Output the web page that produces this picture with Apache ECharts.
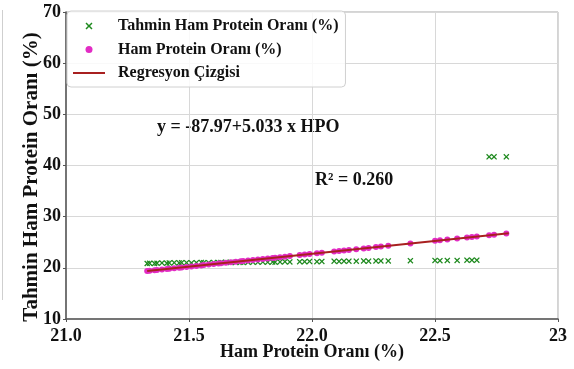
<!DOCTYPE html>
<html><head><meta charset="utf-8">
<script src="https://cdn.jsdelivr.net/npm/echarts@6/dist/echarts.min.js"></script>
<style>html,body{margin:0;padding:0;background:#fff;}#c{width:574px;height:369px;}</style>
</head><body><div id="c"></div>
<script>
// Ham Protein Oranı (%) – x values
const hpo = [21.33,21.34,21.36,21.37,21.39,21.41,21.42,21.44,21.46,21.47,21.49,21.51,21.53,21.55,21.56,21.58,21.60,21.62,21.63,21.65,21.67,21.69,21.71,21.72,21.74,21.76,21.78,21.80,21.82,21.84,21.85,21.87,21.89,21.91,
  21.95,21.97,21.99,22.02,22.04,22.09,22.11,22.13,22.15,22.18,22.21,22.23,22.26,22.28,22.31,22.40,22.50,22.52,22.55,22.59,22.63,22.65,22.67,
  22.72,22.74,22.79];
// Tahmin Ham Protein Oranı (%) – green crosses
const tahmin = [20.85,20.9,20.85,20.9,20.95,20.9,20.95,21.0,20.95,21.0,21.0,20.95,21.0,21.05,21.0,21.0,21.05,21.0,21.05,21.1,21.05,21.05,21.1,21.05,21.1,21.1,21.1,21.15,21.1,21.15,21.1,21.15,21.2,21.15,
  21.2,21.2,21.25,21.2,21.25,21.3,21.25,21.3,21.3,21.3,21.35,21.3,21.35,21.35,21.35,21.4,21.45,21.4,21.45,21.45,21.5,21.5,21.5,
  41.7,41.7,41.7];
// Ham Protein Oranı (%) – magenta dots
const hamY = [19.38,19.43,19.53,19.58,19.68,19.78,19.83,19.93,20.03,20.08,20.18,20.28,20.38,20.48,20.53,20.64,20.74,20.84,20.89,20.99,21.09,21.19,21.29,21.34,21.44,21.54,21.64,21.74,21.84,21.94,21.99,22.09,22.19,22.30,
  22.50,22.60,22.70,22.85,22.95,23.20,23.30,23.40,23.50,23.65,23.80,23.90,24.06,24.16,24.31,24.76,25.27,25.37,25.52,25.72,25.92,26.02,26.12,
  26.38,26.48,26.73];
// Regression line end points
const regX = [21.33, 22.80];
const regY = [19.38, 26.78];
const xTicks = [21.0, 21.5, 22.0, 22.5, 23];
const yTicks = [10, 20, 30, 40, 50, 60, 70];
const names = ['Tahmin Ham Protein Oranı (%)', 'Ham Protein Oranı (%)', 'Regresyon Çizgisi'];
const xTitle = 'Ham Protein Oranı (%)';
const yTitle = 'Tahmin Ham Protein Oranı (%)';
const eqText = 'y = -87.97+5.033 x HPO';
const r2Text = 'R² = 0.260';

const FONT = '"Liberation Serif","Times New Roman",serif';
const xPath = 'path://M0,1.5L1.5,0L5,3.5L8.5,0L10,1.5L6.5,5L10,8.5L8.5,10L5,6.5L1.5,10L0,8.5L3.5,5Z';
const linePath = 'path://M0,0L32,0L32,2L0,2Z';

const chart = echarts.init(document.getElementById('c'), null, {renderer:'canvas'});
chart.setOption({
  animation:false,
  backgroundColor:'#fff',
  grid:{left:66, right:16, top:12, bottom:50, show:true, borderColor:'#a8a8a8', borderWidth:1},
  xAxis:{type:'value', min:xTicks[0], max:xTicks[xTicks.length-1], interval:0.5,
    axisLine:{show:true, lineStyle:{color:'#555', width:1.5}},
    axisTick:{show:true, length:3, lineStyle:{color:'#555'}},
    splitLine:{show:true, lineStyle:{color:'#d8d8d8', width:1}},
    axisLabel:{color:'#111', fontFamily:FONT, fontWeight:'bold', fontSize:18, margin:8,
      formatter:v=> (Math.abs(v-23)<1e-9 ? '23' : v.toFixed(1))},
    name:xTitle, nameLocation:'middle', nameGap:24, nameMoveOverlap:false,
    nameTextStyle:{color:'#111', fontFamily:FONT, fontWeight:'bold', fontSize:18, verticalAlign:'top'}},
  yAxis:{type:'value', min:yTicks[0], max:yTicks[yTicks.length-1], interval:10,
    axisLine:{show:true, lineStyle:{color:'#555', width:1.5}},
    axisTick:{show:true, length:3, lineStyle:{color:'#555'}},
    splitLine:{show:true, lineStyle:{color:'#d8d8d8', width:1}},
    axisLabel:{color:'#111', fontFamily:FONT, fontWeight:'bold', fontSize:18, margin:5}},
  legend:{orient:'vertical', left:67, top:11, padding:[7,7,6,6], itemGap:7.5,
    itemWidth:32, itemHeight:7, backgroundColor:'rgba(255,255,255,0.85)',
    borderColor:'#d0d0d0', borderWidth:1, borderRadius:4,
    textStyle:{color:'#111', fontFamily:FONT, fontWeight:'bold', fontSize:16, lineHeight:16, padding:[0,0,0,8]},
    data:[{name:names[0]},{name:names[1]},{name:names[2], icon:linePath}]},
  graphic:[
    {type:'line', shape:{x1:2.5,y1:10,x2:2.5,y2:300}, style:{stroke:'#cfcfcf', lineWidth:1}, silent:true},
    {type:'text', x:32, y:177, rotation:Math.PI/2,
      style:{text:yTitle, font:'bold 21px '+FONT, fill:'#111', align:'center', verticalAlign:'middle'}},
    {type:'text', x:157, y:127, style:{text:eqText, font:'bold 18px '+FONT, fill:'#111', verticalAlign:'middle'}},
    {type:'text', x:315, y:180, style:{text:r2Text, font:'bold 18px '+FONT, fill:'#111', verticalAlign:'middle'}}
  ],
  series:[
    {name:names[0], type:'scatter', symbol:xPath, symbolSize:6,
      itemStyle:{color:'#1f8a1f', opacity:1}, data:hpo.map((x,i)=>[x,tahmin[i]]), z:2},
    {name:names[1], type:'scatter', symbol:'circle', symbolSize:6,
      itemStyle:{color:'#e22cc4', opacity:1}, data:hpo.map((x,i)=>[x,hamY[i]]), z:3},
    {name:names[2], type:'line', symbol:'none', lineStyle:{color:'#a82020', width:2},
      itemStyle:{color:'#a82020'}, data:regX.map((x,i)=>[x,regY[i]]), z:4}
  ]
});
</script></body></html>
